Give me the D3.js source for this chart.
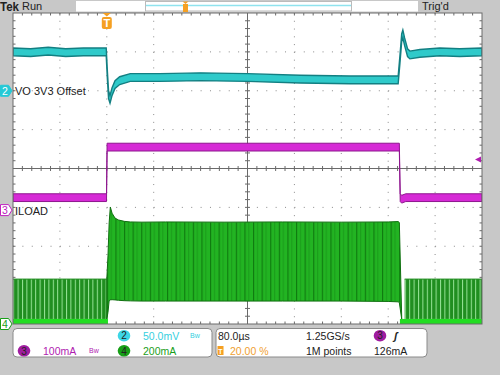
<!DOCTYPE html>
<html>
<head>
<meta charset="utf-8">
<script src="https://cdn.jsdelivr.net/npm/d3@7"></script>
<style>
  body { margin: 0; background: #c8c8c8; }
  svg { display: block; font-family: "Liberation Sans", Arial, sans-serif; }
</style>
</head>
<body>
<svg id="scope" width="500" height="375"></svg>
<script>
// time base: 80 us/div, trigger at 20% -> -160..640 us
var timeDivs = d3.range(-160, 641, 80);

// CH2 (VO 3V3 offset), mV from its marker, 50 mV/div
var ch2Time = [-160, -130, -100, -70, -40, -10, -1, 1, 3, 5.5, 9, 14, 22, 40, 90, 160, 240, 330, 415, 497, 500, 503, 505, 508, 513, 517, 534, 568, 602, 640];
var ch2Mv   = [50, 49, 51, 49, 50, 50, 50, 20, -5, -11, -1, 8, 13, 17, 17, 18, 17, 15, 14, 14, 40, 68, 73, 63, 49, 46, 48, 50, 49, 50];
var ch2Half = 5;

// CH3 (ILOAD), mA, 100 mA/div
var ch3Time = [-160, -0.5, 0.5, 499, 500.5, 503, 510, 640];
var ch3Ma   = [32, 32, 162, 162, 32, 28, 32, 32];
var ch3Half = 10;

// CH4 load current, mA, 200 mA/div
var ch4Time = [0, 2, 4, 6, 9, 14, 20, 30, 40, 60, 100, 200, 300, 400, 480, 497, 499, 503];
var ch4Top  = [231, 350, 520, 602, 570, 545, 535, 528, 525, 524, 525, 524, 525, 524, 525, 527, 522, 40];
var ch4Bot  = [26, 60, 120, 124, 125, 124, 122, 120, 119, 118, 118, 118, 118, 118, 116, 114, 110, 26];
var idleSpans = [[-160, 1], [508, 640]];
var idleTop = 231, idleBot = 26;
var baseSpans = [[-160, 2], [500, 640]];
var baseTop = 26;

var trigLevel = 126;

var svg = d3.select("#scope");
var GL = 13, GR = 482, GT = 13, GB = 324;

var x = d3.scaleLinear().domain([-160, 640]).range([GL, GR]);
var yDiv = d3.scaleLinear().domain([-4, 4]).range([GB, GT]);

function chScale(pos, perDiv) {
  return d3.scaleLinear().domain([(-4 - pos) * perDiv, (4 - pos) * perDiv]).range([GB, GT]);
}
var y2 = chScale(2.0, 50);
var y3 = chScale(-1.07, 100);
var y4 = chScale(-4, 200);

var defs = svg.append("defs");
var pLoad = defs.append("pattern").attr("id", "loadStripes").attr("patternUnits", "userSpaceOnUse")
  .attr("x", x(0)).attr("y", 0).attr("width", 8.6).attr("height", 20);
pLoad.append("rect").attr("width", 8.6).attr("height", 20).attr("fill", "#22b422");
pLoad.append("line").attr("x1", 0.6).attr("x2", 0.6).attr("y1", 0).attr("y2", 20).attr("stroke", "#0f780f").attr("stroke-width", 1.1);
pLoad.append("line").attr("x1", 4.5).attr("x2", 4.5).attr("y1", 0).attr("y2", 20).attr("stroke", "#1a9a1a").attr("stroke-width", 1);

var pIdle = defs.append("pattern").attr("id", "idleStripes").attr("patternUnits", "userSpaceOnUse")
  .attr("width", 4.4).attr("height", 20);
pIdle.append("rect").attr("width", 4.4).attr("height", 20).attr("fill", "#208e20");
pIdle.append("line").attr("x1", 0.5).attr("x2", 0.5).attr("y1", 0).attr("y2", 20).attr("stroke", "#98e498").attr("stroke-width", 1);

defs.append("clipPath").attr("id", "grat").append("rect")
  .attr("x", GL).attr("y", GT).attr("width", GR - GL).attr("height", GB - GT);

/// top status bar
svg.append("text").attr("x", 0).attr("y", 10.5).attr("font-size", 12.5).attr("font-weight", "bold")
  .attr("textLength", 19).attr("lengthAdjust", "spacingAndGlyphs").attr("fill", "#222").text("Tek");
svg.append("text").attr("x", 22).attr("y", 10).attr("font-size", 11).attr("fill", "#222").text("Run");
svg.append("text").attr("x", 422).attr("y", 10).attr("font-size", 11).attr("fill", "#222").text("Trig'd");
svg.append("rect").attr("x", 76).attr("y", 1).attr("width", 342).attr("height", 10.5).attr("fill", "#fff");
svg.append("rect").attr("x", 145.5).attr("y", 1.5).attr("width", 206).attr("height", 9.5).attr("fill", "none").attr("stroke", "#bbb");
svg.append("line").attr("x1", 146).attr("x2", 351).attr("y1", 5.5).attr("y2", 5.5).attr("stroke", "#8fe3ee").attr("stroke-width", 1.5);
svg.append("rect").attr("x", 183).attr("y", 4).attr("width", 5).attr("height", 8).attr("fill", "#f5a023");
svg.append("path").attr("d", "M182.5,1.5 L188.5,1.5 L185.5,4 Z").attr("fill", "#f5a023");

/// graticule
svg.append("rect").attr("x", GL).attr("y", GT).attr("width", GR - GL).attr("height", GB - GT).attr("fill", "#fff");

var xSub = (GR - GL) / 50, ySub = (GB - GT) / 40;
var g = svg.append("g").attr("class", "grid");
timeDivs.slice(1, -1).forEach(function (t, i) {
  if (i === 3) return;
  g.append("line").attr("x1", x(t)).attr("x2", x(t)).attr("y1", GT).attr("y2", GB)
    .attr("stroke", "#8a8a8a").attr("stroke-dasharray", "1," + (ySub - 1));
});
d3.range(-3, 4).forEach(function (d) {
  if (d === 0) return;
  g.append("line").attr("x1", GL).attr("x2", GR).attr("y1", yDiv(d)).attr("y2", yDiv(d))
    .attr("stroke", "#8a8a8a").attr("stroke-dasharray", "1," + (xSub - 1));
});

// center axes with minor ticks
var cx = x(240), cy = yDiv(0);
g.append("line").attr("x1", cx).attr("x2", cx).attr("y1", GT).attr("y2", GB).attr("stroke", "#6a6a6a");
g.append("line").attr("x1", GL).attr("x2", GR).attr("y1", cy).attr("y2", cy).attr("stroke", "#6a6a6a");
d3.range(1, 50).forEach(function (k) {
  var xx = GL + k * xSub;
  g.append("line").attr("x1", xx).attr("x2", xx).attr("y1", cy - 2.5).attr("y2", cy + 2.5).attr("stroke", "#6a6a6a");
  g.append("line").attr("x1", xx).attr("x2", xx).attr("y1", GT).attr("y2", GT + 2.5).attr("stroke", "#6a6a6a");
  g.append("line").attr("x1", xx).attr("x2", xx).attr("y1", GB - 2.5).attr("y2", GB).attr("stroke", "#6a6a6a");
});
d3.range(1, 40).forEach(function (k) {
  var yy = GT + k * ySub;
  g.append("line").attr("x1", cx - 2.5).attr("x2", cx + 2.5).attr("y1", yy).attr("y2", yy).attr("stroke", "#6a6a6a");
  g.append("line").attr("x1", GL).attr("x2", GL + 2.5).attr("y1", yy).attr("y2", yy).attr("stroke", "#6a6a6a");
  g.append("line").attr("x1", GR - 2.5).attr("x2", GR).attr("y1", yy).attr("y2", yy).attr("stroke", "#6a6a6a");
});

/// traces
var traces = svg.append("g").attr("clip-path", "url(#grat)");

// CH4 idle bands and baseline
idleSpans.forEach(function (s) {
  traces.append("rect").attr("x", x(s[0])).attr("width", x(s[1]) - x(s[0]))
    .attr("y", y4(idleTop)).attr("height", y4(idleBot) - y4(idleTop))
    .attr("fill", "url(#idleStripes)");
  traces.append("line").attr("x1", x(s[0])).attr("x2", x(s[1])).attr("y1", y4(idleTop)).attr("y2", y4(idleTop))
    .attr("stroke", "#1c8a1c").attr("stroke-width", 1);
});
baseSpans.forEach(function (s) {
  traces.append("rect").attr("x", x(s[0])).attr("width", x(s[1]) - x(s[0]))
    .attr("y", y4(baseTop)).attr("height", y4(0) - y4(baseTop))
    .attr("fill", "#22dd22");
});

// CH4 load region
var loadData = ch4Time.map(function (t, i) { return { t: t, top: ch4Top[i], bot: ch4Bot[i] }; });
traces.append("path").datum(loadData)
  .attr("d", d3.area().x(function (d) { return x(d.t); }).y0(function (d) { return y4(d.bot); }).y1(function (d) { return y4(d.top); }))
  .attr("fill", "url(#loadStripes)").attr("stroke", "#107010").attr("stroke-width", 1);

// CH3
var ch3Data = ch3Time.map(function (t, i) { return { t: t, v: ch3Ma[i] }; });
traces.append("path").datum(ch3Data)
  .attr("d", d3.area().x(function (d) { return x(d.t); })
    .y0(function (d) { return y3(d.v - ch3Half); }).y1(function (d) { return y3(d.v + ch3Half); }))
  .attr("fill", "#d62ad6").attr("stroke", "#8e168e").attr("stroke-width", 1);

// CH2
var ch2Data = ch2Time.map(function (t, i) { return { t: t, v: ch2Mv[i] }; });
traces.append("path").datum(ch2Data)
  .attr("d", d3.area().x(function (d) { return x(d.t); })
    .y0(function (d) { return y2(d.v - ch2Half); }).y1(function (d) { return y2(d.v + ch2Half); }))
  .attr("fill", "#2fcaca").attr("stroke", "#137f82").attr("stroke-width", 1.4);

// graticule border
svg.append("rect").attr("x", GL).attr("y", GT).attr("width", GR - GL).attr("height", GB - GT)
  .attr("fill", "none").attr("stroke", "#6a6a6a");

// trigger position marker
var tx = x(0);
svg.append("path").attr("d", "M" + (tx - 4) + "," + GT + " L" + (tx + 4) + "," + GT + " L" + tx + "," + (GT + 3.5) + " Z").attr("fill", "#f5a023");
svg.append("rect").attr("x", tx - 5).attr("y", GT + 4).attr("width", 10).attr("height", 12).attr("rx", 2).attr("fill", "#f5a023");
svg.append("text").attr("x", tx).attr("y", GT + 14).attr("text-anchor", "middle").attr("font-size", 11).attr("font-weight", "bold").attr("fill", "#fff").text("T");

// trigger level arrow
var ty = y3(trigLevel) - 1.5;
svg.append("path").attr("d", "M" + (GR - 7) + "," + ty + " L" + (GR - 1) + "," + (ty - 3) + " L" + (GR - 1) + "," + (ty + 3) + " Z").attr("fill", "#b01cb0");

/// channel markers on left
function marker(yy, label, color, filled, txt) {
  svg.append("path").attr("d", "M0.5," + (yy - 5.5) + " L8.5," + (yy - 5.5) + " L12," + yy + " L8.5," + (yy + 5.5) + " L0.5," + (yy + 5.5) + " Z")
    .attr("fill", filled ? color : "#fff").attr("stroke", color);
  svg.append("text").attr("x", 5).attr("y", yy + 4).attr("text-anchor", "middle").attr("font-size", 10.5)
    .attr("fill", filled ? "#fff" : color).text(label);
  if (txt) {
    svg.append("text").attr("x", 15).attr("y", yy + 4.5).attr("font-size", 11).attr("fill", "#222").text(txt);
  }
}
marker(y2(0), "2", "#25c9d6", true, "VO 3V3 Offset");
marker(y3(0), "3", "#c020c0", false, "ILOAD");
marker(y4(0), "4", "#18a018", false, null);

/// bottom readout
var panel = svg.append("g").attr("font-size", 10.5);
panel.append("rect").attr("x", 13).attr("y", 328.5).attr("width", 199).attr("height", 28.5).attr("rx", 4)
  .attr("fill", "#fff").attr("stroke", "#8a8a8a");
panel.append("rect").attr("x", 216).attr("y", 328.5).attr("width", 211).attr("height", 28.5).attr("rx", 4)
  .attr("fill", "#fff").attr("stroke", "#8a8a8a");

function chip(cxp, cyp, color, label) {
  panel.append("ellipse").attr("cx", cxp).attr("cy", cyp).attr("rx", 6.3).attr("ry", 5.8).attr("fill", color);
  panel.append("text").attr("x", cxp).attr("y", cyp + 3.7).attr("text-anchor", "middle").attr("font-size", 10).attr("fill", "#222").text(label);
}
// bandwidth-limit glyph
function bw(xp, yp, color) {
  panel.append("text").attr("x", xp).attr("y", yp).attr("font-size", 7).attr("fill", color).text("Bw");
}

chip(124, 335.7, "#3dd6e6", "2");
panel.append("text").attr("x", 143).attr("y", 339.5).attr("fill", "#35cfe0").text("50.0mV");
bw(190, 338, "#35cfe0");
chip(24, 350.8, "#a01ca0", "3");
panel.append("text").attr("x", 43).attr("y", 354.5).attr("fill", "#b01cb0").text("100mA");
bw(89, 353, "#b01cb0");
chip(124, 350.8, "#169f16", "4");
panel.append("text").attr("x", 143).attr("y", 354.5).attr("fill", "#1a9e1a").text("200mA");

panel.append("text").attr("x", 218).attr("y", 339.5).attr("fill", "#222").text("80.0µs");
panel.append("text").attr("x", 306).attr("y", 339.5).attr("fill", "#222").text("1.25GS/s");
chip(380, 335.7, "#a01ca0", "3");
panel.append("text").attr("x", 394).attr("y", 339.5).attr("font-weight", "bold").attr("font-style", "italic").attr("fill", "#222").text("ʃ");
panel.append("rect").attr("x", 217.5).attr("y", 346).attr("width", 6).attr("height", 9).attr("fill", "#f5a023");
panel.append("text").attr("x", 220.5).attr("y", 353.5).attr("text-anchor", "middle").attr("font-size", 7).attr("font-weight", "bold").attr("fill", "#fff").text("T");
panel.append("text").attr("x", 230).attr("y", 354.5).attr("fill", "#f0a030").text("20.00 %");
panel.append("text").attr("x", 306).attr("y", 354.5).attr("fill", "#222").text("1M points");
panel.append("text").attr("x", 374).attr("y", 354.5).attr("fill", "#222").text("126mA");
</script>
</body>
</html>
